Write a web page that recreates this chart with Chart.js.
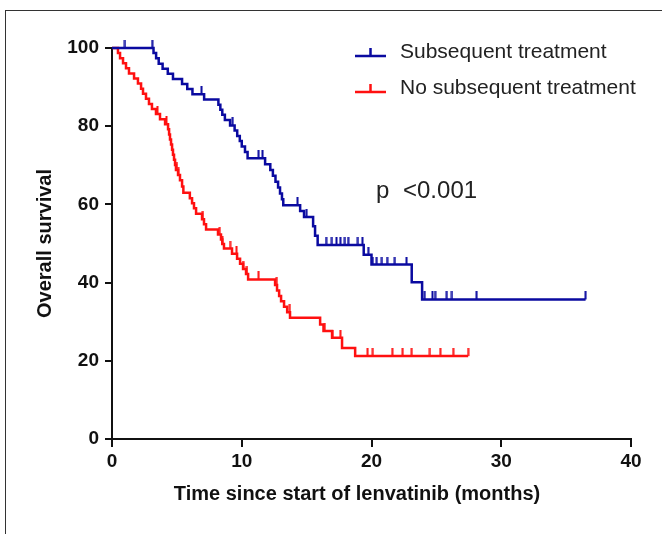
<!DOCTYPE html>
<html>
<head>
<meta charset="utf-8">
<script src="https://cdn.jsdelivr.net/npm/chart.js@4.4.1/dist/chart.umd.min.js"></script>
<style>
  html, body { margin: 0; padding: 0; background: #fff; }
  #wrap { position: relative; width: 662px; height: 534px; }
  #frame { position: absolute; left: 5px; top: 10px; right: 0; bottom: 0;
           border-top: 1.5px solid #333; border-left: 1.5px solid #333; }
</style>
</head>
<body>
<div id="wrap">
  <div id="frame"></div>
  <canvas id="km"></canvas>
</div>
<script>
// Kaplan-Meier steps: time (months) and survival (%) after each drop
const blueTimes = [0, 3.2, 3.4, 3.6, 3.9, 4.3, 4.7, 5.4, 5.8, 6.2, 7.1, 8.2, 8.35, 8.5, 8.7, 9.1, 9.45, 9.65, 9.85, 10.0, 10.25, 10.45,
  11.8, 12.2, 12.4, 12.6, 12.8, 12.95, 13.1, 13.2, 14.5, 14.8, 15.5, 15.65, 15.85, 19.4, 20.0, 23.1, 23.9, 36.5];
const blueSurv = [100, 98.7, 97.4, 96.0, 94.7, 93.4, 92.1, 90.8, 89.5, 88.2, 86.8, 85.5, 84.2, 82.9, 81.6, 80.2, 78.9, 77.5, 76.2, 74.8, 73.4, 71.8,
  70.3, 68.8, 67.3, 65.8, 64.3, 62.8, 61.3, 59.8, 58.3, 56.8, 54.4, 52.0, 49.6, 47.1, 44.6, 40.1, 35.7, 35.7];
const blueCensored = [1.0, 3.1, 6.9, 9.3, 11.3, 11.6, 14.3, 15.0, 16.5, 16.95, 17.3, 17.6, 17.95, 18.2, 18.95, 19.3, 19.75,
  20.1, 20.4, 20.8, 21.2, 21.8, 22.7, 24.1, 24.7, 24.9, 25.8, 26.2, 28.1, 36.5];

const redTimes = [0, 0.46, 0.62, 0.85, 1.08, 1.31, 1.7, 2.0, 2.24, 2.39, 2.62, 2.85, 3.08, 3.39, 3.7, 4.09, 4.32, 4.4, 4.47, 4.55,
  4.63, 4.7, 4.78, 4.86, 4.93, 5.09, 5.24, 5.4, 5.5, 6.0, 6.17, 6.32, 6.48, 6.94, 7.09, 7.25, 8.17, 8.4, 8.5, 8.63,
  9.25, 9.64, 9.87, 10.1, 10.33, 10.49, 12.57, 12.72, 12.88, 13.03, 13.26, 13.5, 13.72, 16.04, 16.3, 16.96, 17.73, 18.74, 27.45];
const redSurv = [100, 98.7, 97.4, 96.1, 94.8, 93.5, 92.2, 90.9, 89.6, 88.3, 87.0, 85.7, 84.4, 83.1, 81.8, 80.5, 79.2, 77.9, 76.6, 75.3,
  74.0, 72.7, 71.4, 70.1, 68.8, 67.5, 66.2, 64.6, 63.0, 61.6, 60.3, 59.0, 57.6, 56.2, 54.9, 53.6, 52.3, 51.0, 49.9, 48.7,
  47.4, 46.1, 44.8, 43.5, 42.2, 40.8, 39.4, 38.0, 36.6, 35.2, 33.8, 32.4, 31.0, 29.3, 27.6, 25.9, 23.3, 21.2, 21.2];
const redCensored = [3.5, 4.2, 5.0, 5.1, 7.0, 8.3, 8.5, 9.1, 9.6, 10.1, 10.4, 11.3, 12.7, 13.7, 16.4, 17.0, 17.6,
  19.7, 20.1, 21.6, 22.4, 23.1, 24.5, 25.3, 26.3, 27.45];

const seriesNames = ['Subsequent treatment', 'No subsequent treatment'];
const seriesColors = ['#0a0aa0', '#ff1010'];
const xTicks = [0, 10, 20, 30, 40];
const yTicks = [0, 20, 40, 60, 80, 100];
const xTitle = 'Time since start of lenvatinib (months)';
const pLabel = 'p';
const pValue = '<0.001';

const FONT = "'Liberation Sans', Arial, sans-serif";

// survival level at time t (step function)
function survAt(times, surv, t) {
  let v = surv[0];
  for (let i = 0; i < times.length; i++) {
    if (times[i] <= t) v = surv[i];
  }
  return v;
}

// small upward tick used for censored marks
function tickMark(color) {
  const c = document.createElement('canvas');
  c.width = 3;
  c.height = 16;
  const g = c.getContext('2d');
  g.fillStyle = color;
  g.fillRect(0.5, 0, 2, 8);
  return c;
}

const labelsPlugin = {
  id: 'kmLabels',
  afterDraw(chart) {
    const ctx = chart.ctx;
    ctx.save();
    const rows = [56, 92];
    ctx.textBaseline = 'middle';
    seriesNames.forEach((name, i) => {
      const y = rows[i];
      ctx.strokeStyle = seriesColors[i];
      ctx.lineWidth = 2.5;
      ctx.beginPath();
      ctx.moveTo(355, y);
      ctx.lineTo(386, y);
      ctx.moveTo(370.5, y);
      ctx.lineTo(370.5, y - 8);
      ctx.stroke();
      ctx.fillStyle = '#222';
      ctx.font = '21px ' + FONT;
      ctx.fillText(name, 400, y - 4);
    });

    // p value
    ctx.font = '24px ' + FONT;
    ctx.fillText(pLabel, 376, 191);
    ctx.fillText(pValue, 403, 191);

    // x axis title, centred as in the original figure
    ctx.fillStyle = '#111';
    ctx.font = 'bold 20px ' + FONT;
    ctx.textAlign = 'center';
    ctx.fillText(xTitle, 357, 494);
    ctx.restore();
  }
};

const ctx = document.getElementById('km').getContext('2d');

const chart = new Chart(ctx, {
  type: 'line',
  data: {
    datasets: [
      {
        label: seriesNames[0],
        data: blueTimes.map((t, i) => ({ x: t, y: blueSurv[i] })),
        borderColor: seriesColors[0],
        borderWidth: 2.5,
        stepped: true,
        pointRadius: 0,
        fill: false,
        clip: false
      },
      {
        label: seriesNames[1],
        data: redTimes.map((t, i) => ({ x: t, y: redSurv[i] })),
        borderColor: seriesColors[1],
        borderWidth: 2.5,
        stepped: true,
        pointRadius: 0,
        fill: false,
        clip: false
      },
      {
        type: 'scatter',
        label: 'blue censored',
        data: blueCensored.map(t => ({ x: t, y: survAt(blueTimes, blueSurv, t) })),
        pointStyle: tickMark(seriesColors[0]),
        pointRadius: 4,
        clip: false
      },
      {
        type: 'scatter',
        label: 'red censored',
        data: redCensored.map(t => ({ x: t, y: survAt(redTimes, redSurv, t) })),
        pointStyle: tickMark(seriesColors[1]),
        pointRadius: 4,
        clip: false
      }
    ]
  },
  options: {
    responsive: true,
    maintainAspectRatio: false,
    animation: false,
    layout: { padding: { left: 20, right: 31, top: 48, bottom: 0 } },
    plugins: {
      legend: { display: false },
      tooltip: { enabled: false }
    },
    scales: {
      x: {
        type: 'linear',
        min: 0,
        max: 40,
        afterBuildTicks: s => { s.ticks = xTicks.map(v => ({ value: v })); },
        afterFit: s => { s.height = 95; },
        border: { display: true, color: '#111', width: 2 },
        grid: { drawOnChartArea: false, drawTicks: true, tickLength: 8, color: '#111', lineWidth: 2 },
        ticks: { color: '#111', padding: 3, font: { family: FONT, size: 19, weight: 'bold' } }
      },
      y: {
        type: 'linear',
        min: 0,
        max: 100,
        afterBuildTicks: s => { s.ticks = yTicks.map(v => ({ value: v })); },
        afterFit: s => { s.width = 92; },
        border: { display: true, color: '#111', width: 2 },
        grid: { drawOnChartArea: false, drawTicks: true, tickLength: 7, color: '#111', lineWidth: 2 },
        ticks: { color: '#111', padding: 6, font: { family: FONT, size: 19, weight: 'bold' } },
        title: {
          display: true,
          text: 'Overall survival',
          color: '#111',
          font: { family: FONT, size: 20, weight: 'bold' },
          padding: { top: 13, bottom: 0 }
        }
      }
    }
  },
  plugins: [labelsPlugin]
});
</script>
</body>
</html>
